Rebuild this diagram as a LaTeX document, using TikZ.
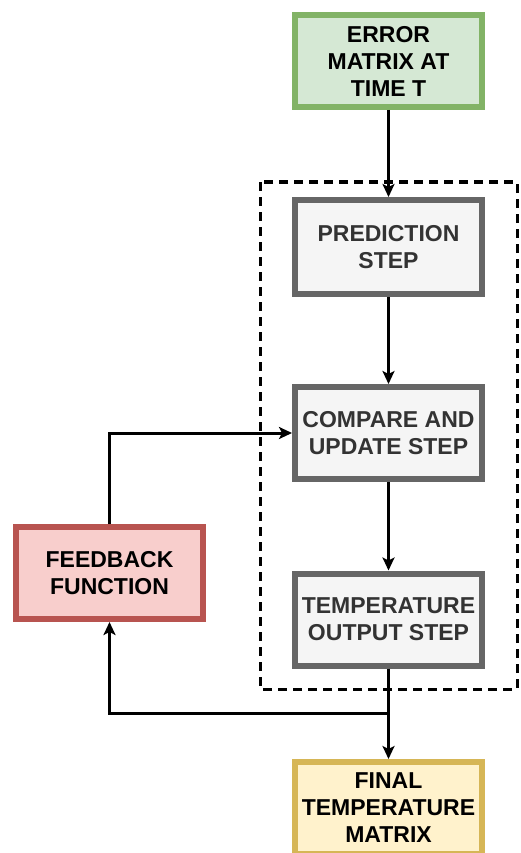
\documentclass[tikz,border=0pt]{standalone}
\usepackage{fontspec}
\setmainfont{Liberation Sans}
\usepackage{xcolor}
\usetikzlibrary{arrows.meta}
\definecolor{grnline}{HTML}{82B366}
\definecolor{grnfill}{HTML}{D5E8D4}
\definecolor{gryline}{HTML}{666666}
\definecolor{gryfill}{HTML}{F5F5F5}
\definecolor{redline}{HTML}{B85450}
\definecolor{redfill}{HTML}{F8CECC}
\definecolor{ylwline}{HTML}{D6B656}
\definecolor{ylwfill}{HTML}{FFF2CC}
\definecolor{txtgray}{HTML}{333333}

\begin{document}
\begin{tikzpicture}[x=1pt,y=1pt,
    box/.style={rectangle, line width=6pt, minimum width=187pt, minimum height=92pt,
        align=center, font=\fontsize{23}{27}\selectfont\bfseries, inner sep=2pt},
    stepbox/.style={box, draw=gryline, fill=gryfill, text=txtgray},
    arr/.style={line width=3pt, -{Stealth[length=13pt,width=12pt,inset=3pt]}}]
    \useasboundingbox (0,0) rectangle (520,-853);

    \draw[line width=3pt, dash pattern=on 9pt off 6pt] (260,-182) rectangle (517,-689);

    \node[box, draw=grnline, fill=grnfill] (err) at (388.5,-61) {ERROR\\MATRIX AT\\TIME T};
    \node[stepbox, minimum height=94pt] (pred) at (388.5,-247) {PREDICTION\\STEP};
    \node[stepbox] (comp) at (388.5,-433) {COMPARE AND\\UPDATE STEP};
    \node[stepbox] (temp) at (388.5,-619.5) {TEMPERATURE\\OUTPUT STEP};
    \node[box, draw=redline, fill=redfill] (fb) at (109.5,-573) {FEEDBACK\\FUNCTION};
    \node[box, draw=ylwline, fill=ylwfill] (fin) at (388.5,-808) {FINAL\\TEMPERATURE\\MATRIX};
    \coordinate (split) at (388.5,-713);

    \draw[arr] (err) -- (pred);
    \draw[arr] (pred) -- (comp);
    \draw[arr] (comp) -- (temp);
    \draw[arr] (temp) -- (fin);
    \draw[arr] (fb.north) |- (comp.west);
    \draw[arr] (split) -| (fb.south);
\end{tikzpicture}
\end{document}
